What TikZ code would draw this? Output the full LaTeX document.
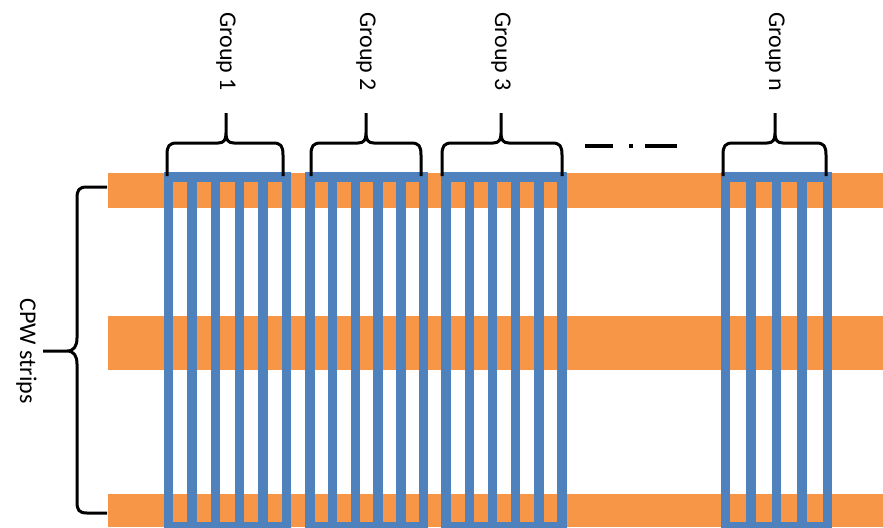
\documentclass[tikz,border=0pt]{standalone}
\usepackage{fontspec}
\setmainfont{Carlito}
\usepackage{tikz}
\definecolor{cpworange}{RGB}{247,150,70}
\definecolor{combblue}{RGB}{79,129,189}

% brace above one group: left end, tip, right end, name of tip
\newcommand{\topbrace}[4]{%
  \draw[brace] (#1,176) -- (#1,155) .. controls (#1,146) and (#1+2,143) .. (#1+10,143)
    -- (#2-8,143) .. controls (#2-2,143) and (#2,140) .. (#2,133) -- (#2,113) coordinate (#4)
    (#2,133) .. controls (#2,140) and (#2+2,143) .. (#2+8,143)
    -- (#3-10,143) .. controls (#3-2,143) and (#3,146) .. (#3,155) -- (#3,176);}

\begin{document}
\begin{tikzpicture}[x=0.5pt,y=-0.5pt,
    strip/.style={fill=cpworange},
    comb/.style={draw=combblue,line width=4.7pt},
    brace/.style={line width=1.5pt,line join=round},
    grouplabel/.style={rotate=-90,anchor=west,inner sep=0pt,font=\fontsize{12}{14}\selectfont}]
  \useasboundingbox (0,0) rectangle (883,527);
  % CPW strips
  \fill[strip] (108,173) rectangle (883,208);
  \fill[strip] (108,316) rectangle (883,370);
  \fill[strip] (108,494) rectangle (883,527);
  % comb groups
  \foreach \xa/\xb/\ni in {168.5/286.5/4, 310/423.5/4, 446/562/4, 725.5/827.5/3}{
    \draw[comb] (\xa,177) rectangle (\xb,527);
    \foreach \k in {1,...,\ni}
      \draw[comb] ({\xa+\k*(\xb-\xa)/(\ni+1)},177) -- ++(0,350);
  }
  % group braces and labels
  \topbrace{167}{226}{283}{tip1}
  \topbrace{311}{366}{421}{tip2}
  \topbrace{442}{501}{562}{tip3}
  \topbrace{723}{775}{826}{tipn}
  \node[grouplabel] (grp1) at ([yshift=50.5pt]tip1) {Group 1};
  \node[grouplabel] (grp2) at ([yshift=50.5pt]tip2) {Group 2};
  \node[grouplabel] (grp3) at ([yshift=50.5pt]tip3) {Group 3};
  \node[grouplabel] (grpn) at ([yshift=50.5pt]tipn) {Group n};
  \draw[line width=2pt,dash pattern=on 14pt off 8pt on 2pt off 6pt on 16pt] (585,146) -- (677,146);
  % strips brace
  \draw[brace] (107,187) -- (87,187) .. controls (79,187) and (77,190) .. (77,198)
    -- (77,338) .. controls (77,346) and (74,351) .. (67,351) -- (43,351) coordinate (cpwtip)
    (67,351) .. controls (74,351) and (77,356) .. (77,364)
    -- (77,502) .. controls (77,510) and (79,513) .. (87,513) -- (107,513);
  \node[rotate=-90,anchor=north,inner sep=3pt,font=\fontsize{12}{14}\selectfont] (cpw) at (cpwtip) {CPW strips};
\end{tikzpicture}
\end{document}
